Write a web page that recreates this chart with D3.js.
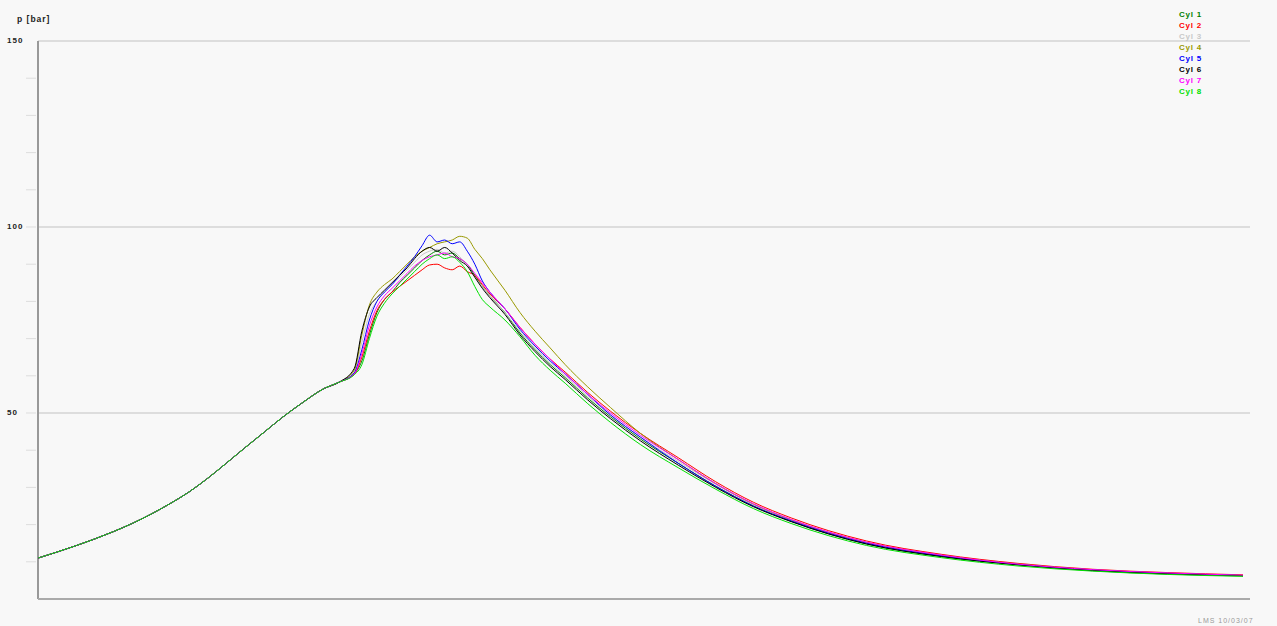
<!DOCTYPE html>
<html>
<head>
<meta charset="utf-8">
<script src="https://cdn.jsdelivr.net/npm/d3@7"></script>
<style>
  body { margin: 0; background: #f8f8f8; }
  svg { display: block; font-family: Arial, "Liberation Sans", sans-serif; }
</style>
</head>
<body>
<div id="chart"></div>
<script>
// crank angle (deg) and pressure (bar), compression part is common to all cylinders
const anglesCompression = [-40, -35, -30, -27.5, -25, -22.5, -20, -17.5, -15, -12.5, -10, -7.5, -5, -2, 0];
const pCompression = [11.0, 14.3, 18.1, 20.3, 22.8, 25.6, 28.7, 32.4, 36.5, 40.7, 44.8, 48.9, 52.6, 56.6, 58.3];

const anglesCombustion = [2, 3, 4, 5, 6, 7, 8, 9, 10, 11, 12, 13, 14, 15, 16, 17, 18, 19, 20,
  22, 24, 26, 28, 30, 33, 36, 40, 45, 50, 55, 60, 70, 80, 90, 100, 110, 120];

const cyl1 = [60.5, 64, 71, 77, 80.5, 82.5, 85, 87, 89, 91, 92.5, 93.5, 92.5, 93, 91.5, 90, 87, 84, 81.5,
  77, 71.5, 67, 63, 59.5, 54, 49, 43, 36.5, 30.3, 25, 20.9, 14.8, 11.4, 9.2, 7.6, 6.7, 6.2];
const cyl2 = [60.5, 65, 72, 77.5, 80.5, 82.5, 84, 85.5, 87, 88.5, 89.8, 90, 89, 88.5, 89.5, 88, 87, 84.5, 82,
  78, 73, 68.5, 64.5, 61, 55.5, 50.5, 44.5, 38, 31.5, 26, 21.8, 15.6, 12, 9.6, 8, 7.1, 6.5];
const cyl3 = [61, 69, 76.5, 80, 82.5, 84.5, 86.5, 88.5, 90.5, 92.5, 93.5, 94, 93, 93.5, 92, 89.5, 86.5, 84, 81.5,
  77, 72, 67.5, 63.5, 60, 54.5, 49.5, 43.5, 37, 30.8, 25.3, 21.2, 15.1, 11.6, 9.3, 7.8, 6.9, 6.3];
const cyl4 = [61.5, 71, 79, 82.5, 84.5, 86, 88, 90, 92, 93.5, 94.5, 95.5, 96, 96.5, 97.5, 97, 94, 91.5, 88.5,
  83, 77, 72, 67.5, 63, 57, 51.5, 44.5, 37.5, 31, 25.5, 21.3, 15.2, 11.7, 9.4, 7.8, 6.9, 6.3];
const cyl5 = [60.8, 67, 75, 80, 82.5, 84.5, 87, 89.5, 92, 95, 97.8, 96, 96.5, 95.5, 96, 93.5, 90, 85.5, 82.5,
  78, 72.5, 68, 64, 60.5, 55, 49.5, 43.5, 36.5, 30.3, 25, 21, 15, 11.6, 9.3, 7.8, 6.9, 6.3];
const cyl6 = [62, 72, 78.5, 81, 83, 85, 87, 89, 91.5, 93.5, 94.5, 93.5, 94.5, 93, 91, 89.5, 86.5, 83.5, 81,
  76.5, 71, 66.5, 62.5, 59, 53.5, 48.5, 42.5, 36, 30, 24.8, 20.8, 14.8, 11.4, 9.2, 7.7, 6.8, 6.3];
const cyl7 = [60.5, 66, 73.5, 78.5, 81.5, 83.5, 85.5, 87.5, 89.5, 91, 92, 92.5, 93, 92, 91.5, 90, 87.5, 85, 82.5,
  78, 73, 68.5, 64.5, 60.5, 55, 50, 44, 37.5, 31, 25.6, 21.4, 15.3, 11.8, 9.4, 7.9, 7, 6.4];
const cyl8 = [60.3, 63, 70, 76, 79.5, 82, 84, 86, 88, 90, 91.5, 92.5, 91.5, 92, 90.5, 88, 84, 80.5, 78.5,
  75, 70.5, 65.5, 61.5, 58, 52.5, 47.5, 41.5, 35.3, 29.5, 24.3, 20.3, 14.4, 11.1, 8.9, 7.5, 6.6, 6.1];

const cylNames = ['Cyl 1', 'Cyl 2', 'Cyl 3', 'Cyl 4', 'Cyl 5', 'Cyl 6', 'Cyl 7', 'Cyl 8'];
const cylColors = ['#008000', '#ff0000', '#c8c8c8', '#999900', '#0000ff', '#000000', '#ff00ff', '#00e000'];
const cylValues = [cyl1, cyl2, cyl3, cyl4, cyl5, cyl6, cyl7, cyl8];
const yTicksMajor = [50, 100, 150];

const width = 1277, height = 626;
const plotLeft = 38, plotRight = 1243, plotTop = 41, plotBottom = 599;

const svg = d3.select('#chart').append('svg')
    .attr('width', width)
    .attr('height', height);

svg.append('rect').attr('width', width).attr('height', height).attr('fill', '#f8f8f8');

const x = d3.scaleLinear().domain([-40, 120]).range([plotLeft, plotRight]);
const y = d3.scaleLinear().domain([0, 150]).range([plotBottom, plotTop]);

// grid lines
svg.selectAll('.grid')
    .data(yTicksMajor)
    .enter().append('line')
    .attr('x1', plotLeft).attr('x2', 1250)
    .attr('y1', d => y(d)).attr('y2', d => y(d))
    .attr('stroke', '#d4d4d4')
    .attr('stroke-width', 1.5);

// minor ticks
svg.selectAll('.minor')
    .data(d3.range(10, 150, 10))
    .enter().append('line')
    .attr('x1', 26).attr('x2', 36)
    .attr('y1', d => y(d)).attr('y2', d => y(d))
    .attr('stroke', '#dddddd')
    .attr('stroke-width', 1);

// axes
svg.append('line').attr('x1', plotLeft).attr('x2', plotLeft).attr('y1', plotTop).attr('y2', plotBottom)
    .attr('stroke', '#999').attr('stroke-width', 2);
svg.append('line').attr('x1', plotLeft).attr('x2', 1250).attr('y1', plotBottom).attr('y2', plotBottom)
    .attr('stroke', '#aaa').attr('stroke-width', 2);

svg.selectAll('.ylabel')
    .data(yTicksMajor)
    .enter().append('text')
    .attr('x', 7)
    .attr('y', d => y(d) + 2)
    .attr('font-size', 8)
    .attr('font-weight', 'bold')
    .attr('letter-spacing', 1)
    .attr('fill', '#222')
    .text(d => d);

svg.append('text')
    .attr('x', 17).attr('y', 22)
    .attr('font-size', 8.5)
    .attr('font-weight', 'bold')
    .attr('letter-spacing', 1)
    .attr('fill', '#222')
    .text('p [bar]');

// curves
const line = d3.line()
    .x(d => x(d[0]))
    .y(d => y(d[1]))
    .curve(d3.curveMonotoneX);

cylValues.forEach(function (vals, i) {
    let pts = anglesCompression.map((a, j) => [a, pCompression[j]])
        .concat(anglesCombustion.map((a, j) => [a, vals[j]]));
    svg.append('path')
        .datum(pts)
        .attr('d', line)
        .attr('fill', 'none')
        .attr('stroke', cylColors[i])
        .attr('stroke-width', 1);
});

// legend
svg.selectAll('.legend')
    .data(cylNames)
    .enter().append('text')
    .attr('x', 1179)
    .attr('y', (d, i) => 17 + i * 11)
    .attr('font-size', 8)
    .attr('font-weight', 'bold')
    .attr('letter-spacing', 0.8)
    .attr('fill', (d, i) => cylColors[i])
    .text(d => d);

svg.append('text')
    .attr('x', 1198).attr('y', 623)
    .attr('font-size', 7)
    .attr('letter-spacing', 1)
    .attr('fill', '#999')
    .text('LMS 10/03/07');
</script>
</body>
</html>
